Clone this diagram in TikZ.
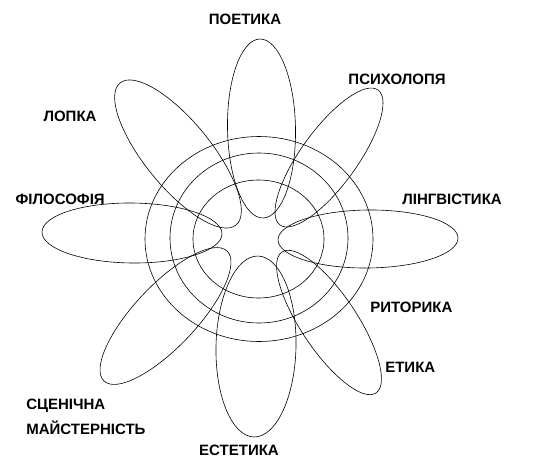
\documentclass[tikz,border=0pt]{standalone}
\usepackage{fontspec}
\setmainfont{Liberation Sans}
\begin{document}
\begin{tikzpicture}[x=1pt, y=1pt, line width=0.6pt,
    lbl/.style={font=\bfseries\fontsize{15}{25}\selectfont, inner sep=0pt}]
    \useasboundingbox (0,0) rectangle (548,472);
    % 同心円
    \draw (259,233) ellipse [x radius=114, y radius=102.5];
    \draw (259,234) ellipse [x radius=89, y radius=85];
    \draw (258.5,233) ellipse [x radius=65.5, y radius=59];
    % 花びら (上, 右上, 右, 右下)
    \draw[shift={(261.5,343.5)}, rotate=91] (0,0) ellipse [x radius=89.5, y radius=34];
    \draw[shift={(329,314.5)}, rotate=54] (0,0) ellipse [x radius=83.4, y radius=28];
    \draw[shift={(368,233)}, rotate=0.6] (0,0) ellipse [x radius=90, y radius=29];
    \draw[shift={(329,149.5)}, rotate=-56.3] (0,0) ellipse [x radius=84.7, y radius=28];
    % 花びら (下, 左下, 左, 左上)
    \draw[shift={(256,125.5)}, rotate=88.7] (0,0) ellipse [x radius=90.5, y radius=40];
    \draw[shift={(165.5,156)}, rotate=46.6] (0,0) ellipse [x radius=89.5, y radius=31];
    \draw[shift={(132,239)}, rotate=-0.6] (0,0) ellipse [x radius=90, y radius=30];
    \draw[shift={(178,318)}, rotate=129.2] (0,0) ellipse [x radius=91.7, y radius=33];
    % ラベル
    \node[lbl] (poetyka) at (245,453) {ПОЕТИКА};
    \node[lbl] (psykholohiia) at (397,393) {ПСИХОЛОПЯ};
    \node[lbl] (lohika) at (70,356) {ЛОПКА};
    \node[lbl, anchor=east] (filosofiia) at (105,273) {ФІЛОСОФІЯ};
    \node[lbl, anchor=west] (linhvistyka) at (402,273) {ЛІНГВІСТИКА};
    \node[lbl, anchor=west] (rytoryka) at (370,164.5) {РИТОРИКА};
    \node[lbl, anchor=west] (etyka) at (385,104.5) {ЕТИКА};
    \node[lbl, anchor=west, align=left] (stsena) at (26,55.5) {СЦЕНІЧНА\\МАЙСТЕРНІСТЬ};
    \node[lbl] (estetyka) at (239,22) {ЕСТЕТИКА};
\end{tikzpicture}
\end{document}
